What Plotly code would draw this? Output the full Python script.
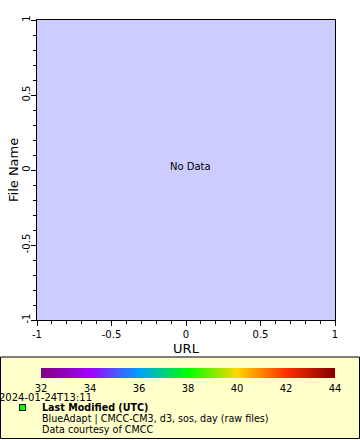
import plotly.graph_objects as go

# Data
x_range = [-1, 1]
y_range = [-1, 1]
tick_vals = [-1, -0.5, 0, 0.5, 1]
tick_text = ["-1", "-0.5", "0", "0.5", "1"]
color_min = 32
color_max = 44
color_ticks = [32, 34, 36, 38, 40, 42, 44]
color_stops = [
    [0.0, "#800080"],
    [1/6, "#A000FF"],
    [2/6, "#00A0FF"],
    [3/6, "#00FF00"],
    [4/6, "#FFD700"],
    [5/6, "#FF3000"],
    [1.0, "#800000"],
]
no_data_text = "No Data"
modified_time = "2024-01-24T13:11"
legend_lines = [
    "<b>Last Modified (UTC)</b>",
    "BlueAdapt | CMCC-CM3, d3, sos, day (raw files)",
    "Data courtesy of CMCC",
]
x_title = "URL"
y_title = "File Name"

W, H = 360, 440
FONT = "DejaVu Sans"

def px(x):
    return x / W

def py(y):
    return 1 - y / H

fig = go.Figure()

# Empty trace carrying the colour scale
fig.add_trace(go.Scatter(
    x=[None], y=[None], mode="markers",
    marker=dict(color=[color_min], coloraxis="coloraxis", size=1),
    showlegend=False, hoverinfo="skip",
))

axis_common = dict(
    showgrid=False, zeroline=False, showline=True, linecolor="black",
    linewidth=1, mirror=True, ticks="outside", ticklen=5, tickcolor="black",
    tickwidth=1, tickvals=tick_vals, ticktext=tick_text, automargin=False,
    tickfont=dict(family=FONT, size=10, color="black"),
    minor=dict(dtick=0.1, ticks="outside", ticklen=3, tickcolor="black", tickwidth=1),
)

fig.update_layout(
    width=W, height=H,
    margin=dict(l=0, r=0, t=0, b=0, autoexpand=False),
    paper_bgcolor="white",
    plot_bgcolor="#CCCCFF",
    showlegend=False,
    xaxis=dict(range=x_range, domain=[px(37), px(335)], **axis_common,
               title=dict(text=x_title, font=dict(family=FONT, size=13, color="black"), standoff=4)),
    yaxis=dict(range=y_range, domain=[py(320), py(20)], tickangle=-90,
               ticklabelstandoff=-3, **axis_common),
    coloraxis=dict(
        cmin=color_min, cmax=color_max, colorscale=color_stops, showscale=True,
        colorbar=dict(
            orientation="h", x=px(41), xanchor="left", y=py(368), yanchor="top",
            len=294, lenmode="pixels", thickness=10, thicknessmode="pixels",
            xpad=0, ypad=0, outlinewidth=0, ticks="outside", ticklen=2,
            tickcolor="rgba(0,0,0,0)", tickvals=color_ticks,
            tickfont=dict(family=FONT, size=10, color="black"),
            ticklabelposition="outside bottom",
        ),
    ),
    font=dict(family=FONT),
)

# Y axis title
fig.add_annotation(text=y_title, x=px(13), y=py(170), xref="paper", yref="paper",
                   xanchor="center", yanchor="middle",
                   textangle=-90, showarrow=False, borderpad=0,
                   font=dict(family=FONT, size=13, color="black"))

# Legend box
fig.add_shape(type="rect", xref="paper", yref="paper",
              x0=px(0.5), x1=px(359.5), y0=py(438.5), y1=py(357),
              fillcolor="#FFFFCC", line=dict(color="black", width=1), layer="below")
# Legend symbol
fig.add_shape(type="rect", xref="paper", yref="paper",
              x0=px(19.5), x1=px(25.5), y0=py(410.5), y1=py(404.5),
              fillcolor="#00FF00", line=dict(color="black", width=1))

fig.add_annotation(text=no_data_text, x=0.03, y=0.02, xref="x", yref="y",
                   showarrow=False, font=dict(family=FONT, size=10, color="black"))

fig.add_annotation(text=modified_time, x=px(-2.5), y=py(397.5), xref="paper", yref="paper",
                   xanchor="left", yanchor="middle", showarrow=False, borderpad=0,
                   font=dict(family=FONT, size=10, color="black"))
for i, line in enumerate(legend_lines):
    fig.add_annotation(text=line, x=px(41), y=py(407.5 + 11 * i), xref="paper", yref="paper",
                       xanchor="left", yanchor="middle", showarrow=False, borderpad=0,
                       font=dict(family=FONT, size=9.6, color="black"))

fig.write_html("out.html")
